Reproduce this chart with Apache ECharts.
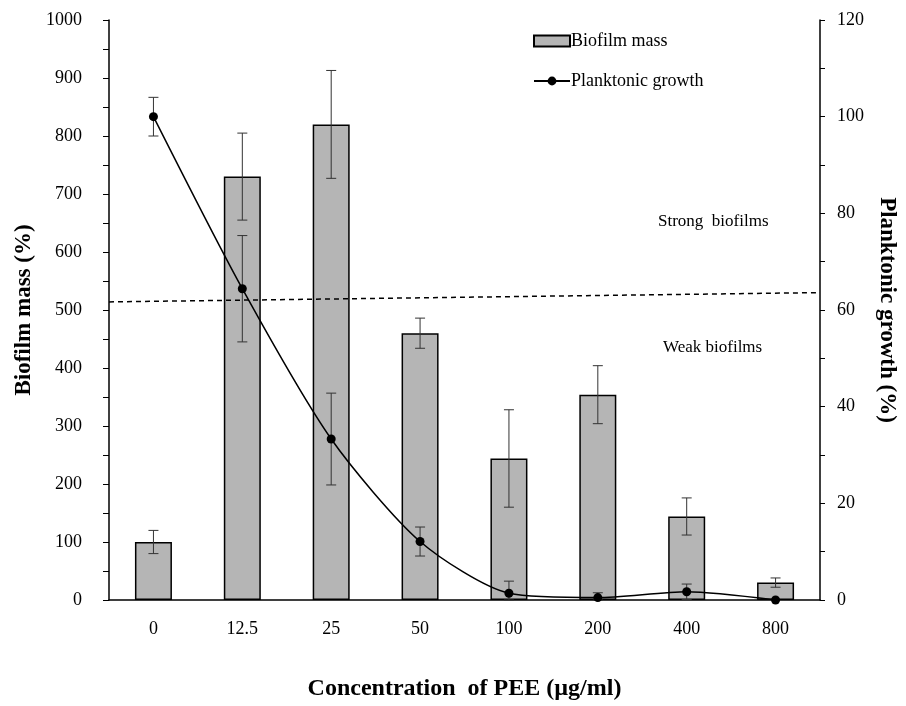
<!DOCTYPE html>
<html>
<head>
<meta charset="utf-8">
<script src="https://cdn.jsdelivr.net/npm/echarts@6/dist/echarts.min.js"></script>
<style>
  html, body { margin: 0; padding: 0; background: #fff; overflow: hidden; }
  #main { width: 906px; height: 706px; }
</style>
</head>
<body>
<div id="main"></div>
<script>
// PEE concentrations (µg/ml)
const categories = ['0', '12.5', '25', '50', '100', '200', '400', '800'];
// biofilm mass (%) and its error
const biofilmMass = [100, 730, 820, 460, 244, 354, 144, 30];
const biofilmErr = [20, 75, 93, 26, 84, 50, 32, 8];
// planktonic growth (%) and its error
const planktonic = [100, 64.4, 33.3, 12.1, 1.4, 0.5, 1.7, 0];
const planktonicErr = [4, 11, 9.5, 3, 2.5, 1, 1.6, 0];
// strong / weak biofilm cut-off, left and right ends
const cutoffLine = [514, 530];

const font = 'Liberation Serif';

function errorBars(values, errs) {
  return values.map((v, i) => [i, Math.max(v - errs[i], 0), v + errs[i]]);
}

function renderErr(params, api) {
  let x = api.value(0);
  let lo = api.coord([x, api.value(1)]);
  let hi = api.coord([x, api.value(2)]);
  if (api.value(2) === api.value(1)) return;
  let cap = 5;
  let style = { stroke: '#333', lineWidth: 1 };
  return {
    type: 'group',
    children: [
      { type: 'line', shape: { x1: hi[0], y1: hi[1], x2: lo[0], y2: lo[1] }, style: style },
      { type: 'line', shape: { x1: hi[0] - cap, y1: hi[1], x2: hi[0] + cap, y2: hi[1] }, style: style },
      { type: 'line', shape: { x1: lo[0] - cap, y1: lo[1], x2: lo[0] + cap, y2: lo[1] }, style: style }
    ]
  };
}

let chart = echarts.init(document.getElementById('main'));

let option = {
  backgroundColor: '#fff',
  animation: false,
  textStyle: { fontFamily: font, color: '#000' },
  grid: { left: 109, top: 20, width: 712, height: 583 },
  legend: {
    orient: 'vertical',
    left: 528,
    top: 27,
    itemGap: 22,
    itemWidth: 36,
    itemHeight: 11,
    textStyle: { fontFamily: font, fontSize: 18, color: '#000', padding: [0, 0, 0, -4] },
    data: [{ name: 'Biofilm mass', icon: 'rect' }, { name: 'Planktonic growth' }]
  },
  graphic: [
    { type: 'text', left: 658, top: 213, style: { text: 'Strong  biofilms', font: '17px "Liberation Serif"', fill: '#000' } },
    { type: 'text', left: 663, top: 339, style: { text: 'Weak biofilms', font: '17px "Liberation Serif"', fill: '#000' } }
  ],
  xAxis: [
    {
      type: 'category',
      data: categories,
      axisLine: { lineStyle: { color: '#000', width: 1.5 } },
      axisTick: { show: false },
      axisLabel: { fontFamily: font, fontSize: 18, color: '#000', margin: 20 },
      name: 'Concentration  of PEE (µg/ml)',
      nameLocation: 'middle',
      nameGap: 77,
      nameTextStyle: { fontFamily: font, fontSize: 24, fontWeight: 'bold', color: '#000' }
    },
    { type: 'value', min: 0, max: 1, show: false }
  ],
  yAxis: [
    {
      type: 'value',
      min: 0,
      max: 1000,
      interval: 100,
      axisLine: { show: true, lineStyle: { color: '#000', width: 1.5 } },
      axisTick: { show: true, length: 6, lineStyle: { color: '#000' } },
      minorTick: { show: true, splitNumber: 2, length: 6, lineStyle: { color: '#000' } },
      splitLine: { show: false },
      axisLabel: { fontFamily: font, fontSize: 18, color: '#000', margin: 27, formatter: v => String(v) },
      name: 'Biofilm mass (%)',
      nameLocation: 'middle',
      nameGap: 66,
      nameTextStyle: { fontFamily: font, fontSize: 23, fontWeight: 'bold', color: '#000' }
    },
    {
      type: 'value',
      min: 0,
      max: 120,
      interval: 20,
      axisLine: { show: true, lineStyle: { color: '#000', width: 1.5 } },
      axisTick: { show: true, length: 5, lineStyle: { color: '#000' } },
      minorTick: { show: true, splitNumber: 2, length: 5, lineStyle: { color: '#000' } },
      splitLine: { show: false },
      axisLabel: { fontFamily: font, fontSize: 18, color: '#000', margin: 17 },
      name: 'Planktonic growth (%)',
      nameLocation: 'middle',
      nameRotate: -90,
      nameGap: 55,
      nameTextStyle: { fontFamily: font, fontSize: 23, fontWeight: 'bold', color: '#000' }
    }
  ],
  series: [
    {
      name: 'Biofilm mass',
      type: 'bar',
      data: biofilmMass,
      barWidth: 37,
      itemStyle: { color: '#b5b5b5', borderColor: '#000', borderWidth: 1.5 },
      z: 2
    },
    {
      name: 'biofilmErr',
      type: 'custom',
      data: errorBars(biofilmMass, biofilmErr),
      renderItem: renderErr,
      z: 3
    },
    {
      name: 'planktonicErr',
      type: 'custom',
      yAxisIndex: 1,
      data: errorBars(planktonic, planktonicErr),
      renderItem: renderErr,
      z: 4
    },
    {
      name: 'Planktonic growth',
      type: 'line',
      yAxisIndex: 1,
      data: planktonic,
      smooth: 0.25,
      symbol: 'circle',
      symbolSize: 9,
      lineStyle: { color: '#000', width: 1.5 },
      itemStyle: { color: '#000' },
      z: 5
    },
    {
      name: 'cutoff',
      type: 'line',
      xAxisIndex: 1,
      data: [[0, cutoffLine[0]], [1, cutoffLine[1]]],
      symbol: 'none',
      lineStyle: { color: '#000', width: 1.5, type: [5, 4] },
      z: 6
    }
  ]
};

chart.setOption(option);
</script>
</body>
</html>
